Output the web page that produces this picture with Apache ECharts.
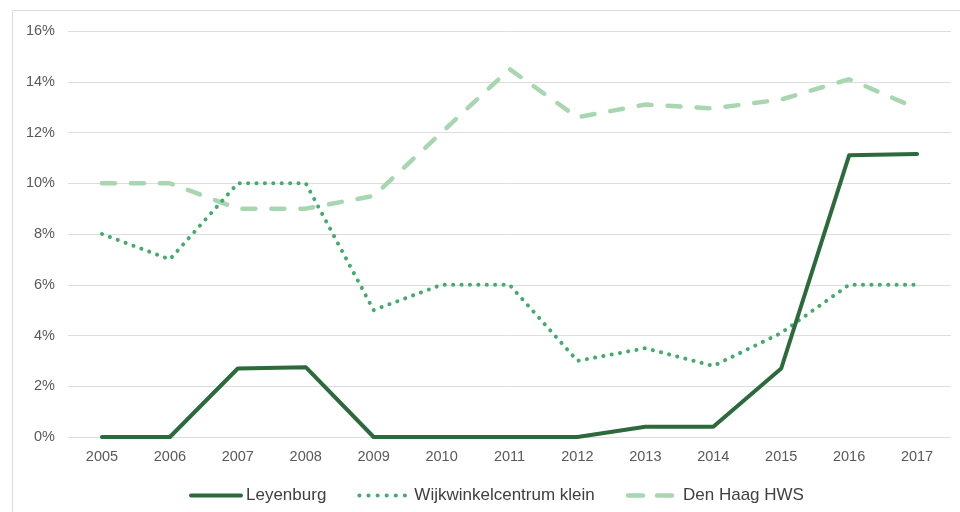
<!DOCTYPE html>
<html>
<head>
<meta charset="utf-8">
<script src="https://cdn.jsdelivr.net/npm/echarts@6/dist/echarts.min.js"></script>
<style>
  html, body { margin: 0; padding: 0; background: #fff; }
  #chart { width: 960px; height: 512px; }
</style>
</head>
<body>
<div id="chart"></div>
<script>
// jaren
const years = ['2005','2006','2007','2008','2009','2010','2011','2012','2013','2014','2015','2016','2017'];
// waarden in procenten
const leyenburg = [0, 0, 2.7, 2.75, 0, 0, 0, 0, 0.4, 0.4, 2.7, 11.1, 11.15];
const wijkwinkel = [8, 7, 10, 10, 5, 6, 6, 3, 3.5, 2.8, 4.1, 6, 6];
const denHaag = [10, 10, 9, 9, 9.5, 12, 14.5, 12.6, 13.1, 12.95, 13.3, 14.1, 12.95];

const chart = echarts.init(document.getElementById('chart'));

const font = 'Liberation Sans, Arial, sans-serif';

const styles = {
  ley: { color: '#2c6a3c', width: 4, cap: 'round', join: 'round' },
  wijk: { color: '#45ab6d', width: 4, type: [0.1, 8.3], cap: 'round', join: 'round' },
  dh: { color: '#a8d6b1', width: 4.5, type: [13, 16], cap: 'round', join: 'round' }
};

const option = {
  backgroundColor: '#fff',
  animation: false,
  graphic: [{
    type: 'rect',
    shape: { x: 12.5, y: 10.5, width: 1000, height: 600 },
    style: { fill: 'none', stroke: '#dcdcdc', lineWidth: 1 },
    silent: true
  }],
  grid: { left: 68, right: 9, top: 31, bottom: 75 },
  legend: {
    left: 184,
    top: 482,
    itemWidth: 50,
    itemHeight: 14,
    itemGap: 31,
    itemStyle: { opacity: 0 },
    textStyle: { fontFamily: font, fontSize: 17, color: '#404040' },
    data: [
      { name: 'Leyenburg', lineStyle: styles.ley },
      { name: 'Wijkwinkelcentrum klein', lineStyle: { color: '#45ab6d', width: 4, type: [0.1, 9], cap: 'round' } },
      { name: 'Den Haag HWS', lineStyle: { color: '#a8d6b1', width: 4.5, type: [15, 14], cap: 'round' } }
    ]
  },
  xAxis: {
    type: 'category',
    data: years,
    axisLine: { show: false },
    axisTick: { show: false },
    axisLabel: { fontFamily: font, fontSize: 14.5, color: '#595959', margin: 12 }
  },
  yAxis: {
    type: 'value',
    min: 0,
    max: 16,
    interval: 2,
    axisLine: { show: false },
    axisTick: { show: false },
    splitLine: { lineStyle: { color: '#dedede', width: 1 } },
    axisLabel: {
      fontFamily: font, fontSize: 14.5, color: '#595959', margin: 13,
      formatter: v => v + '%'
    }
  },
  series: [
    {
      name: 'Leyenburg',
      type: 'line',
      data: leyenburg,
      symbol: 'none',
      z: 3,
      color: styles.ley.color,
      lineStyle: styles.ley
    },
    {
      name: 'Wijkwinkelcentrum klein',
      type: 'line',
      data: wijkwinkel,
      symbol: 'none',
      z: 2,
      color: styles.wijk.color,
      lineStyle: styles.wijk
    },
    {
      name: 'Den Haag HWS',
      type: 'line',
      data: denHaag,
      symbol: 'none',
      z: 1,
      color: styles.dh.color,
      lineStyle: styles.dh
    }
  ]
};

chart.setOption(option);
</script>
</body>
</html>
